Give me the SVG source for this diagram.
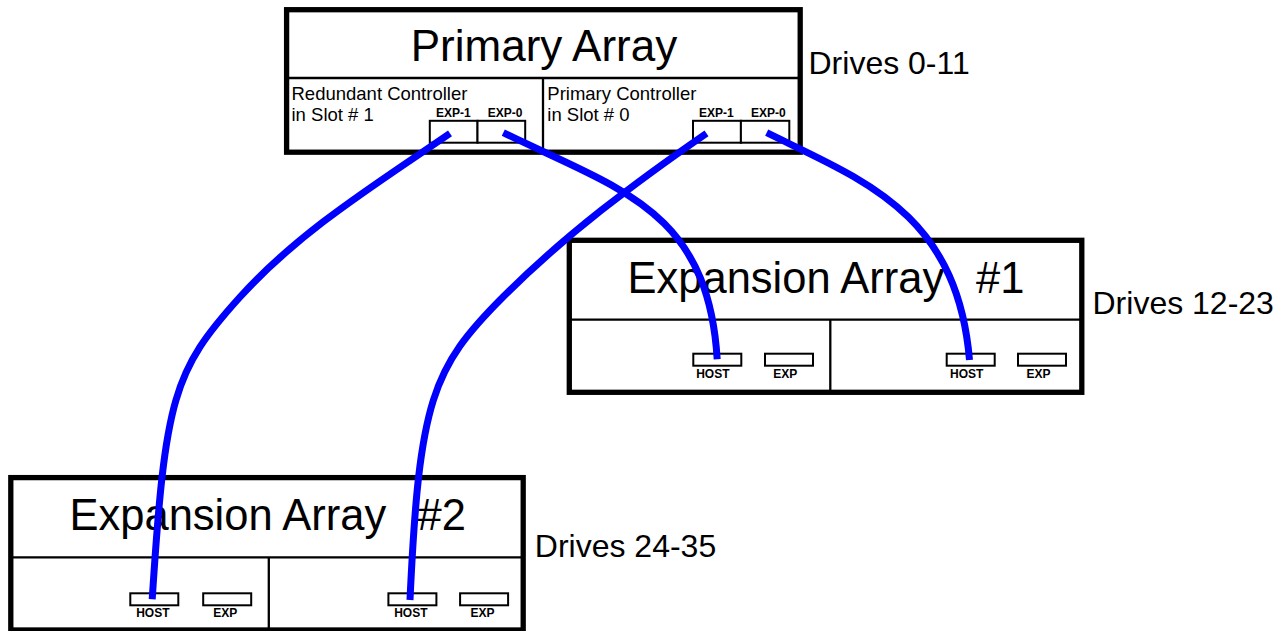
<svg xmlns="http://www.w3.org/2000/svg" width="1281" height="631" viewBox="0 0 1281 631">
<style>
  .frame{fill:#fff;stroke:#000;stroke-width:5.3}
  .line{fill:none;stroke:#000;stroke-width:2.3}
  .port{fill:#fff;stroke:#000;stroke-width:2}
  text{font-family:"Liberation Sans",Arial,Helvetica,sans-serif;fill:#000}
  .title{font-size:44px}
  .etitle{font-size:43.5px}
  .sub{font-size:18.5px}
  .plabel{font-size:12px;font-weight:bold;text-anchor:middle}
  .drives{font-size:32px}
  .cable{fill:none;stroke:#0000ff;stroke-width:7}
</style>
<rect x="0" y="0" width="1281" height="631" fill="#fff"/>

<g id="primary-array">
  <rect class="frame" x="286.6" y="9.7" width="513.6" height="142.5"/>
  <line class="line" x1="286.6" y1="78" x2="800.2" y2="78"/>
  <line class="line" x1="543" y1="78" x2="543" y2="152.2"/>
  <text class="title" x="544" y="60.5" text-anchor="middle">Primary Array</text>
  <text class="sub" x="291.5" y="100">Redundant Controller</text>
  <text class="sub" x="291.5" y="121">in Slot # 1</text>
  <text class="sub" x="547.3" y="100">Primary Controller</text>
  <text class="sub" x="547.3" y="121">in Slot # 0</text>
  <rect class="port" x="429.8" y="120.8" width="47.7" height="21.9"/>
  <rect class="port" x="477.5" y="120.8" width="47.7" height="21.9"/>
  <rect class="port" x="693" y="120.8" width="47.9" height="21.9"/>
  <rect class="port" x="740.9" y="120.8" width="48.4" height="21.9"/>
  <text class="plabel" x="453.3" y="116.7">EXP-1</text>
  <text class="plabel" x="505" y="116.7">EXP-0</text>
  <text class="plabel" x="716.3" y="116.7">EXP-1</text>
  <text class="plabel" x="768.3" y="116.7">EXP-0</text>
  <text class="drives" x="808.5" y="74.3">Drives 0-11</text>
</g>

<g id="expansion-array-1">
  <rect class="frame" x="569.3" y="240.3" width="512.5" height="152"/>
  <line class="line" x1="569.3" y1="319.7" x2="1081.8" y2="319.7"/>
  <line class="line" x1="830.3" y1="319.7" x2="830.3" y2="392.3"/>
  <text class="etitle" x="627.5" y="293.4">Expansion Array <tspan x="976">#1</tspan></text>
  <rect class="port" x="693.3" y="353.7" width="48" height="12"/>
  <rect class="port" x="765" y="353.7" width="48" height="12"/>
  <rect class="port" x="946.7" y="353.7" width="48" height="12"/>
  <rect class="port" x="1018" y="353.7" width="48" height="12"/>
  <text class="plabel" x="712.8" y="377.7">HOST</text>
  <text class="plabel" x="785.3" y="377.7">EXP</text>
  <text class="plabel" x="966.7" y="377.7">HOST</text>
  <text class="plabel" x="1038.5" y="377.7">EXP</text>
  <text class="drives" x="1092.5" y="314.3">Drives 12-23</text>
</g>

<g id="expansion-array-2">
  <rect class="frame" x="10.8" y="477.6" width="512.4" height="152.4"/>
  <line class="line" x1="10.8" y1="557.3" x2="523.2" y2="557.3"/>
  <line class="line" x1="268.8" y1="557.3" x2="268.8" y2="630"/>
  <text class="etitle" x="69.5" y="530.3">Expansion Array <tspan x="417.5">#2</tspan></text>
  <rect class="port" x="130.3" y="593.3" width="48" height="12"/>
  <rect class="port" x="203.2" y="593.3" width="48" height="12"/>
  <rect class="port" x="388.4" y="593.3" width="48" height="12"/>
  <rect class="port" x="460.1" y="593.3" width="48" height="12"/>
  <text class="plabel" x="152.8" y="616.7">HOST</text>
  <text class="plabel" x="225.3" y="616.7">EXP</text>
  <text class="plabel" x="410.8" y="616.7">HOST</text>
  <text class="plabel" x="482.6" y="616.7">EXP</text>
  <text class="drives" x="534.8" y="557.3">Drives 24-35</text>
</g>

<g id="connectors">
  <path class="cable" d="M450,133.3 C377,183.5 299.6,231 240,297 C173,371 165.2,398 152.2,599.3"/>
  <path class="cable" d="M503.3,132.7 C618.7,189.2 708,209 717.2,359.3"/>
  <path class="cable" d="M706.5,133.3 C634.9,182.7 564.5,235.5 503,297 C432.3,367.7 419.2,400 410,600"/>
  <path class="cable" d="M766.7,132.7 C864,180.6 957,213 969.5,360"/>
</g>
</svg>
